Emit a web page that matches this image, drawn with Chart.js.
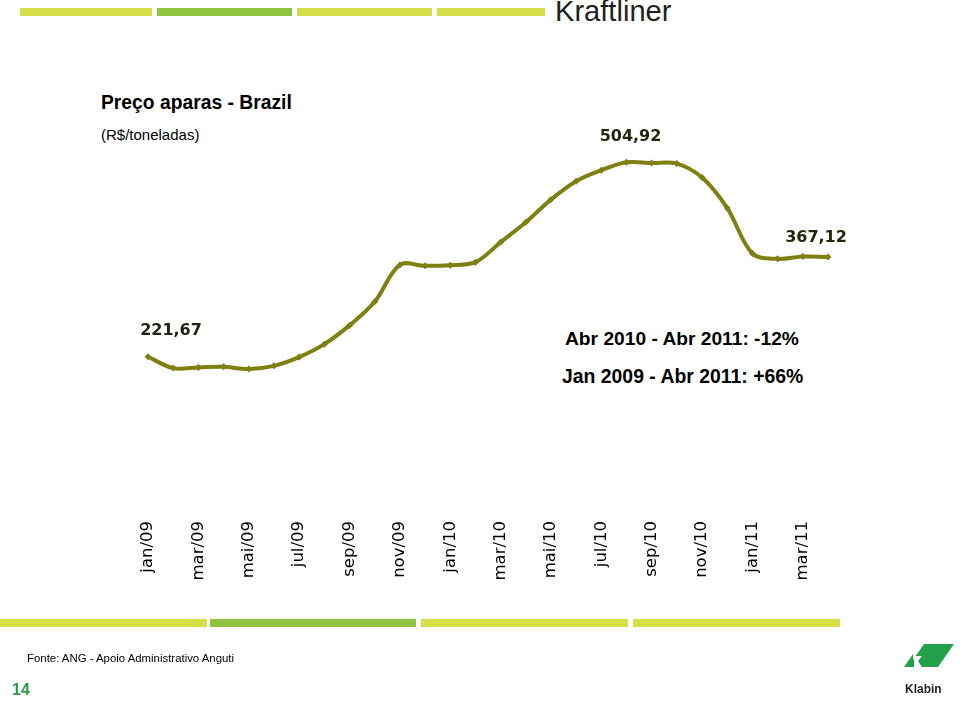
<!DOCTYPE html>
<html>
<head>
<meta charset="utf-8">
<script src="https://cdn.jsdelivr.net/npm/chart.js@4.4.1/dist/chart.umd.min.js"></script>
<style>
  body { margin: 0; background: #fff; }
  #page { position: relative; width: 960px; height: 703px; overflow: hidden; font-family: "Liberation Sans", Arial, sans-serif; }
  #page canvas { position: absolute; left: 0; top: 0; }
  .bar { position: absolute; height: 8px; }
  .txt { position: absolute; white-space: nowrap; }
</style>
</head>
<body>
<div id="page">
  <div class="bar" style="left:20px;top:8px;width:132px;background:#d5e048"></div>
  <div class="bar" style="left:157px;top:8px;width:135px;background:#8dc540"></div>
  <div class="bar" style="left:297px;top:8px;width:135px;background:#d5e048"></div>
  <div class="bar" style="left:437px;top:8px;width:108px;background:#d5e048"></div>
  <div class="txt" style="left:555px;top:-6px;font-size:30px;color:#231f20;transform:scaleX(0.97);transform-origin:left">Kraftliner</div>

  <div class="txt" style="left:101px;top:92px;font-size:19.3px;font-weight:bold;color:#000">Preço aparas - Brazil</div>
  <div class="txt" style="left:101px;top:126px;font-size:15px;color:#000">(R$/toneladas)</div>

  <div class="txt" style="left:565px;top:328px;font-size:19.2px;font-weight:bold;color:#000">Abr 2010 - Abr 2011: -12%</div>
  <div class="txt" style="left:562px;top:365px;font-size:19.4px;font-weight:bold;color:#000">Jan 2009 - Abr 2011: +66%</div>

  <canvas id="chart" width="960" height="703"></canvas>

  <div class="bar" style="left:0px;top:619px;width:207px;background:#d5e048"></div>
  <div class="bar" style="left:210px;top:619px;width:206px;background:#8dc540"></div>
  <div class="bar" style="left:421px;top:619px;width:207px;background:#d5e048"></div>
  <div class="bar" style="left:633px;top:619px;width:207px;background:#d5e048"></div>
  <div class="txt" style="left:27px;top:652px;font-size:11.4px;color:#000">Fonte: ANG - Apoio Administrativo Anguti</div>
  <div class="txt" style="left:12px;top:681px;font-size:16px;font-weight:bold;color:#2e9a48">14</div>

  <svg style="position:absolute;left:880px;top:638px" width="80" height="62">
    <polygon points="28,29 44,6 74,6 58,29" fill="#23a04a"/>
    <polygon points="24,29 33,16 33,29" fill="#23a04a"/>
    <polygon points="34,18 42,18 38,23 42,29 34,29" fill="#fff"/>
    <text x="25" y="55" font-family="Liberation Sans, Arial" font-size="12" font-weight="bold" fill="#231f20">Klabin</text>
  </svg>
</div>

<script>
var months = ['jan/09','fev/09','mar/09','abr/09','mai/09','jun/09','jul/09','ago/09','sep/09','out/09','nov/09','dez/09',
              'jan/10','fev/10','mar/10','abr/10','mai/10','jun/10','jul/10','ago/10','sep/10','out/10','nov/10','dez/10',
              'jan/11','fev/11','mar/11','abr/11'];
var prices = [221.67, 205.2, 206.2, 207.1, 203.8, 208.5, 221.2, 240.1, 267.4, 301.7, 355.5, 354.1,
              355.1, 359.5, 388.5, 417.6, 450.6, 477.3, 493.3, 504.92, 503.9, 503.0, 482.7, 438.2,
              372.1, 364.3, 367.7, 367.12];
var labelIdx = [0, 19, 27];
var labelText = ['221,67', '504,92', '367,12'];

var lineColor = '#7f8012';

// draws the three highlighted values above their points
var valueLabels = {
  id: 'valueLabels',
  afterDatasetsDraw: function(chart) {
    var ctx = chart.ctx;
    var pts = chart.getDatasetMeta(0).data;
    var offs = [[23, -26], [4, -25], [-12, -19]];
    ctx.save();
    ctx.font = 'bold 16px "DejaVu Sans", Verdana, sans-serif';
    ctx.fillStyle = '#23250f';
    ctx.textAlign = 'center';
    ctx.textBaseline = 'middle';
    labelIdx.forEach(function(i, k) {
      var p = pts[i];
      ctx.fillText(labelText[k], p.x + offs[k][0], p.y + offs[k][1]);
    });
    ctx.restore();
  }
};

var ctx = document.getElementById('chart').getContext('2d');
var myChart = new Chart(ctx, {
  type: 'line',
  data: {
    labels: months,
    datasets: [{
      label: 'Preço aparas',
      data: prices,
      borderColor: lineColor,
      backgroundColor: lineColor,
      borderWidth: 4,
      tension: 0.35,
      pointStyle: 'rectRot',
      pointRadius: 3.5,
      pointBorderWidth: 0,
      pointBackgroundColor: lineColor
    }]
  },
  options: {
    responsive: false,
    animation: false,
    layout: { padding: { left: 148, right: 132, top: 97, bottom: 114 } },
    plugins: { legend: { display: false }, tooltip: { enabled: false } },
    scales: {
      x: {
        offset: false,
        border: { display: false },
        grid: { display: false, drawTicks: false },
        afterFit: function(s) { s.height = 80; },
        ticks: {
          autoSkip: false,
          minRotation: 90,
          maxRotation: 90,
          padding: 12,
          color: '#000',
          font: { family: '"DejaVu Sans", Verdana, sans-serif', size: 16.5 },
          callback: function(v, i) { return i % 2 === 0 ? months[i] : ''; }
        }
      },
      y: { display: false, min: 0, max: 600 }
    }
  },
  plugins: [valueLabels]
});
</script>
</body>
</html>
